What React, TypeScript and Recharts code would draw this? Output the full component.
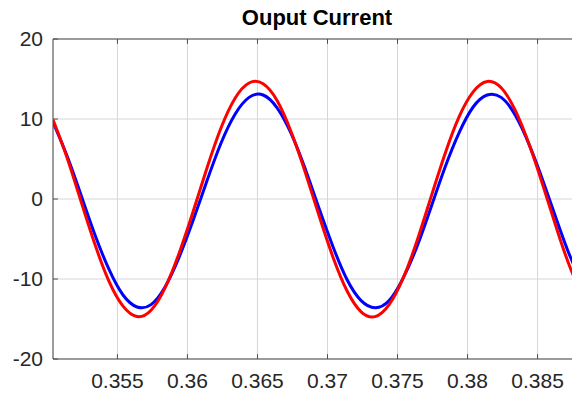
import { LineChart, Line, XAxis, YAxis, CartesianGrid, ReferenceLine } from 'recharts';

// time samples (s)
const times = [
  0.3504, 0.3514, 0.3524, 0.3534, 0.3544, 0.3554, 0.3564, 0.3574, 0.3584, 0.3594,
  0.3604, 0.3614, 0.3624, 0.3634, 0.3644, 0.3654, 0.3664, 0.3674, 0.3684, 0.3694,
  0.3704, 0.3714, 0.3724, 0.3734, 0.3744, 0.3754, 0.3764, 0.3774, 0.3784, 0.3794,
  0.3804, 0.3814, 0.3824, 0.3834, 0.3844, 0.3854, 0.3864, 0.3874, 0.3884,
];

// red trace
const redCurrent = [
  9.9, 5.2, -0.3, -5.7, -10.3, -13.4, -14.7, -13.9, -11.1, -6.8,
  -1.6, 3.9, 8.9, 12.6, 14.5, 14.4, 12.3, 8.4, 3.4, -2.1,
  -7.3, -11.5, -14.1, -14.7, -13.2, -9.9, -5.2, 0.3, 5.7, 10.3,
  13.4, 14.7, 13.9, 11.1, 6.8, 1.6, -3.9, -8.9, -12.6,
];

// blue trace
const blueCurrent = [
  9.6, 5.4, 0.5, -4.5, -8.8, -12.0, -13.5, -13.2, -11.0, -7.3,
  -2.7, 2.3, 7.0, 10.6, 12.7, 13.0, 11.4, 8.2, 3.8, -1.2,
  -6.0, -10.1, -12.7, -13.6, -12.7, -9.9, -5.9, -1.0, 4.0, 8.3,
  11.5, 13.0, 12.7, 10.5, 6.8, 2.2, -2.8, -7.5, -11.1,
];

const xTicks = [0.355, 0.36, 0.365, 0.37, 0.375, 0.38, 0.385];
const yTicks = [-20, -10, 0, 10, 20];

const X_MIN = 0.3504;
const X_MAX = 0.3881;

const rows = times.map((t, i) => ({ t, red: redCurrent[i], blue: blueCurrent[i] }));

const tickStyle = { fill: '#262626', fontSize: 21, fontFamily: 'Liberation Sans, Arial, sans-serif' };
const axisColor = '#4d4d4d';

export default function App() {
  return (
    <div
      style={{
        position: 'absolute',
        left: 0,
        top: 0,
        width: 572,
        height: 396,
        overflow: 'hidden',
        background: '#fff',
      }}
    >
      <div
        style={{
          position: 'absolute',
          left: 0,
          top: 7,
          width: 634,
          textAlign: 'center',
          fontFamily: 'Liberation Sans, Arial, sans-serif',
          fontWeight: 'bold',
          fontSize: 22,
          lineHeight: '22px',
          color: '#000',
        }}
      >
        Ouput Current
      </div>
      <LineChart
        width={600}
        height={396}
        data={rows}
        margin={{ top: 39, right: 19, left: 0, bottom: 0 }}
        style={{ position: 'absolute', left: 0, top: 0 }}
      >
        <CartesianGrid stroke="#d6d6d6" strokeWidth={1} />
        <XAxis
          dataKey="t"
          type="number"
          domain={[X_MIN, X_MAX]}
          allowDataOverflow
          ticks={xTicks}
          tickFormatter={(v) => String(v)}
          height={37}
          axisLine={{ stroke: axisColor }}
          tickLine={false}
          tickSize={0}
          tickMargin={14}
          tick={tickStyle}
        />
        <YAxis
          type="number"
          domain={[-20, 20]}
          ticks={yTicks}
          width={53}
          axisLine={{ stroke: axisColor }}
          tickLine={false}
          tickSize={0}
          tickMargin={10}
          tick={tickStyle}
        />
        <ReferenceLine y={20} stroke={axisColor} />

        {/* inward tick marks, box style */}
        {xTicks.map((x) => (
          <ReferenceLine
            key={`tt${x}`}
            stroke={axisColor}
            segment={[
              { x, y: 20 },
              { x, y: 19.4 },
            ]}
          />
        ))}
        {xTicks.map((x) => (
          <ReferenceLine
            key={`tb${x}`}
            stroke={axisColor}
            segment={[
              { x, y: -20 },
              { x, y: -19.4 },
            ]}
          />
        ))}
        {yTicks.map((y) => (
          <ReferenceLine
            key={`tl${y}`}
            stroke={axisColor}
            segment={[
              { x: X_MIN, y },
              { x: X_MIN + 0.00035, y },
            ]}
          />
        ))}

        <Line
          type="natural"
          dataKey="blue"
          stroke="#0000ff"
          strokeWidth={3}
          dot={false}
          isAnimationActive={false}
        />
        <Line
          type="natural"
          dataKey="red"
          stroke="#ff0000"
          strokeWidth={3}
          dot={false}
          isAnimationActive={false}
        />
      </LineChart>
    </div>
  );
}
